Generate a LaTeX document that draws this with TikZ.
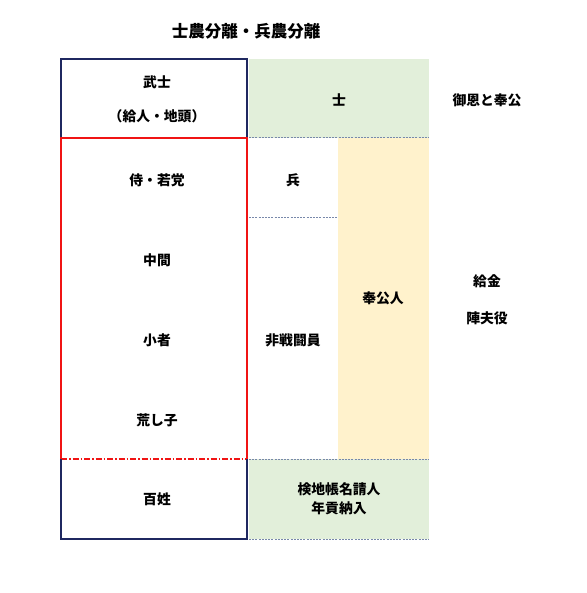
\documentclass[tikz,border=0pt]{standalone}
\usepackage{fontspec}
\setmainfont{Noto Sans CJK JP}
\usetikzlibrary{calc}
\definecolor{tblNavy}{RGB}{31,40,96}
\definecolor{tblRed}{RGB}{240,20,20}
\definecolor{tblGreen}{RGB}{226,239,218}
\definecolor{tblYellow}{RGB}{255,242,204}
\definecolor{tblDash}{RGB}{120,136,170}
\tikzset{
  lbl/.style={font=\fontsize{13.8}{19}\selectfont\bfseries, inner sep=0pt, align=center},
  ttl/.style={font=\fontsize{16.5}{20}\selectfont\bfseries, inner sep=0pt},
  navyline/.style={tblNavy, line width=1.5pt},
  redline/.style={tblRed, line width=1.5pt},
  sepline/.style={tblDash, line width=1pt, dash pattern=on 2pt off 1.2pt}
}
\begin{document}
\begin{tikzpicture}[x=1pt, y=-1pt]
\useasboundingbox (0,0) rectangle (586,593);
% coloured cells
\fill[tblGreen] (249,59) rectangle (429,138);
\fill[tblYellow] (338,138) rectangle (429,459);
\fill[tblGreen] (249,459) rectangle (429,539);
% dashed separators on the right side
\draw[sepline] (249,138) -- (429,138);
\draw[sepline] (249,218) -- (338,218);
\draw[sepline] (249,459) -- (429,459);
\draw[sepline] (249,539) -- (429,539);
% left column frames
\draw[navyline] (61,138) -- (61,59) -- (247,59) -- (247,138);
\draw[redline] (61,459) -- (61,138) -- (247,138) -- (247,459);
\draw[redline, dash pattern=on 6pt off 2pt on 1.5pt off 2pt] (61,459) -- (247,459);
\draw[navyline] (61,459) -- (61,539) -- (247,539) -- (247,459);
% title
\node[ttl] (title) at (246,31) {士農分離・兵農分離};
% left column
\node[lbl] (bushi) at (157,82) {武士};
\node[lbl] (kyunin) at (157,116) {（給人・地頭）};
\node[lbl] (samurai) at (157,180) {侍・若党};
\node[lbl] (chugen) at (157,260) {中間};
\node[lbl] (komono) at (157,340) {小者};
\node[lbl] (arashiko) at (157,420) {荒し子};
\node[lbl] (hyakusho) at (157,499) {百姓};
% right side
\node[lbl] (shi) at (339,100) {士};
\node[lbl] (hei) at (293,180) {兵};
\node[lbl] (hisento) at (293,340) {非戦闘員};
\node[lbl] (hokonin) at (383,298) {奉公人};
\node[lbl] (kenchi) at (339,499) {検地帳名請人\\年貢納入};
% outer notes
\node[lbl] (goon) at (487,100) {御恩と奉公};
\node[lbl] (kyukin) at (487,281) {給金};
\node[lbl] (jinbu) at (487,318) {陣夫役};
\end{tikzpicture}
\end{document}
